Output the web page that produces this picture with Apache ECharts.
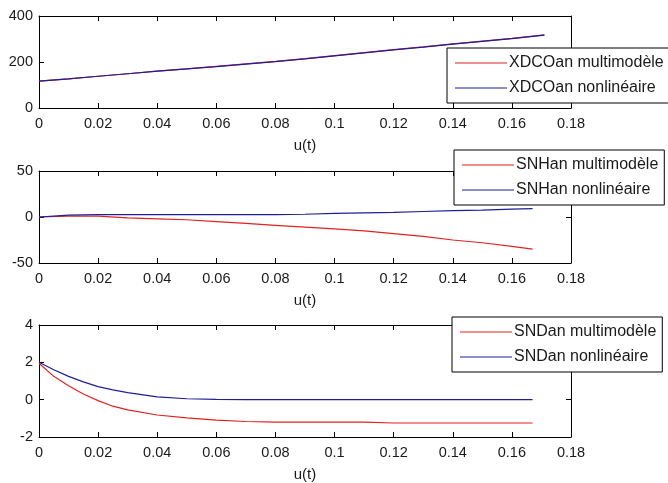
<!DOCTYPE html>
<html>
<head>
<meta charset="utf-8">
<script src="https://cdn.jsdelivr.net/npm/echarts@6/dist/echarts.min.js"></script>
<style>
html,body{margin:0;padding:0;background:#fff;}
#chart{width:668px;height:483px;}
</style>
</head>
<body>
<div id="chart"></div>
<script>
// u(t) samples and responses for each panel
const xTop = [0, 0.01, 0.02, 0.03, 0.04, 0.05, 0.06, 0.07, 0.08, 0.09, 0.1, 0.11, 0.12, 0.13, 0.14, 0.15, 0.16, 0.171];
const xdcoMulti = [117, 127, 138, 149, 160, 170, 181, 192, 203, 215, 228, 241, 254, 266, 279, 291, 303, 318];
const xdcoNonlin = [117, 127, 138, 149, 160, 170, 180, 191, 202, 214, 227, 240, 253, 265, 278, 290, 302, 317];

const xMid = [0, 0.01, 0.02, 0.03, 0.04, 0.05, 0.06, 0.07, 0.08, 0.09, 0.1, 0.11, 0.12, 0.13, 0.14, 0.15, 0.16, 0.167];
const snhMulti = [0, 1, 1, -1, -2, -3, -5, -7, -9, -11, -13, -15, -18, -21, -25, -28, -32, -35];
const snhNonlin = [0, 2, 2.5, 2.5, 2.5, 2.5, 2.5, 2.5, 2.5, 3, 4, 4.5, 5, 6, 7, 7.5, 8.5, 9];

const xBot = [0, 0.005, 0.01, 0.015, 0.02, 0.025, 0.03, 0.04, 0.05, 0.06, 0.07, 0.08, 0.09, 0.1, 0.11, 0.12, 0.13, 0.14, 0.15, 0.16, 0.167];
const sndMulti = [1.95, 1.25, 0.75, 0.3, -0.05, -0.35, -0.55, -0.82, -0.98, -1.1, -1.17, -1.2, -1.2, -1.2, -1.2, -1.25, -1.25, -1.25, -1.25, -1.25, -1.25];
const sndNonlin = [2, 1.6, 1.25, 0.95, 0.7, 0.52, 0.38, 0.15, 0.05, 0.02, 0, 0, 0, 0, 0, 0, 0, 0, 0, 0, 0];

const xTicks = {min: 0, max: 0.18, interval: 0.02};
const yTop = {min: 0, max: 400, interval: 200};
const yMid = {min: -50, max: 50, interval: 50};
const yBot = {min: -2, max: 4, interval: 2};

const legendTop = ['XDCOan multimodèle', 'XDCOan nonlinéaire'];
const legendMid = ['SNHan multimodèle', 'SNHan nonlinéaire'];
const legendBot = ['SNDan multimodèle', 'SNDan nonlinéaire'];

const RED = '#e02222';
const BLUE = '#1e1e9a';
const FONT = 'Liberation Sans';
const INK = '#1a1a1a';

const grids = [
  {left: 39, top: 16, width: 532, height: 92},
  {left: 39, top: 171, width: 532, height: 92},
  {left: 39, top: 325, width: 532, height: 112}
];

const tickStyle = {show: true, inside: true, length: 5, lineStyle: {color: '#000'}};
const lineAx = {show: true, onZero: false, lineStyle: {color: '#000', width: 1}};

const xAxes = [];
const yAxes = [];
const yRanges = [yTop, yMid, yBot];
grids.forEach((g, i) => {
  // bottom axis with labels and the u(t) title
  xAxes.push({
    type: 'value', gridIndex: i, position: 'bottom', ...xTicks,
    name: 'u(t)', nameLocation: 'middle', nameGap: 30,
    nameTextStyle: {fontFamily: FONT, fontSize: 15, color: INK},
    axisLine: lineAx, axisTick: tickStyle, splitLine: {show: false},
    axisLabel: {fontFamily: FONT, fontSize: 14.5, color: INK, margin: 8}
  });
  // top mirror axis, ticks only
  xAxes.push({
    type: 'value', gridIndex: i, position: 'top', ...xTicks,
    axisLine: lineAx, axisTick: tickStyle, splitLine: {show: false},
    axisLabel: {show: false}
  });
  yAxes.push({
    type: 'value', gridIndex: i, position: 'left', ...yRanges[i],
    axisLine: lineAx, axisTick: tickStyle, splitLine: {show: false},
    axisLabel: {fontFamily: FONT, fontSize: 14.5, color: INK, margin: 6}
  });
  yAxes.push({
    type: 'value', gridIndex: i, position: 'right', ...yRanges[i],
    axisLine: lineAx, axisTick: tickStyle, splitLine: {show: false},
    axisLabel: {show: false}
  });
});

function pairs(xs, ys) { return xs.map((x, k) => [x, ys[k]]); }
function mkSeries(name, xs, ys, color, i) {
  return {
    name, type: 'line', xAxisIndex: i * 2, yAxisIndex: i * 2,
    data: pairs(xs, ys), symbol: 'none', smooth: false,
    lineStyle: {color, width: 1.2}, itemStyle: {color},
    animation: false, z: 3
  };
}

const series = [
  mkSeries(legendTop[0], xTop, xdcoMulti, RED, 0),
  mkSeries(legendTop[1], xTop, xdcoNonlin, BLUE, 0),
  mkSeries(legendMid[0], xMid, snhMulti, RED, 1),
  mkSeries(legendMid[1], xMid, snhNonlin, BLUE, 1),
  mkSeries(legendBot[0], xBot, sndMulti, RED, 2),
  mkSeries(legendBot[1], xBot, sndNonlin, BLUE, 2)
];

function mkLegend(data, left, top) {
  return {
    data, left, top, orient: 'vertical',
    icon: 'rect', itemWidth: 52, itemHeight: 1.2, itemGap: 7,
    backgroundColor: '#fff', borderColor: '#000', borderWidth: 1,
    padding: [6, 6, 6, 8],
    textStyle: {fontFamily: FONT, fontSize: 16, color: INK, lineHeight: 18, padding: [0, 0, 0, -3]},
    selectedMode: false, z: 10
  };
}

const chart = echarts.init(document.getElementById('chart'), null, {renderer: 'canvas'});
chart.setOption({
  backgroundColor: '#fff',
  animation: false,
  grid: grids,
  xAxis: xAxes,
  yAxis: yAxes,
  legend: [
    mkLegend(legendTop, 447, 48),
    mkLegend(legendMid, 454, 150),
    mkLegend(legendBot, 452, 317)
  ],
  series
});
</script>
</body>
</html>
